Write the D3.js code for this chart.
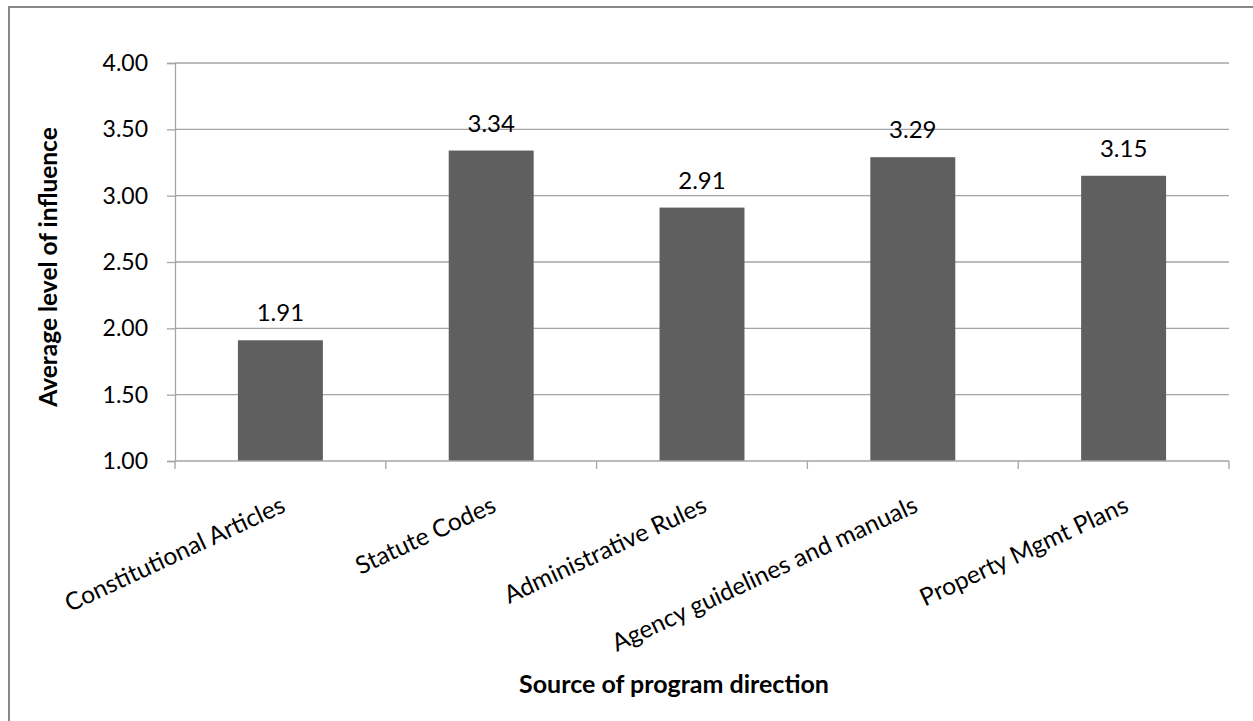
<!DOCTYPE html>
<html>
<head>
<meta charset="utf-8">
<script src="https://cdn.jsdelivr.net/npm/d3@7"></script>
<style>
  html, body { margin: 0; padding: 0; background: #fff; }
  svg { display: block; }
  text { font-family: Lato, "Open Sans", sans-serif; fill: #000; }
</style>
</head>
<body>
<svg id="chart" width="1253" height="721"></svg>
<script>
// Average influence by source of program direction
const categories = [
  "Constitutional Articles",
  "Statute Codes",
  "Administrative Rules",
  "Agency guidelines and manuals",
  "Property Mgmt Plans"
];
const values = [1.91, 3.34, 2.91, 3.29, 3.15];
const yTicks = [1.00, 1.50, 2.00, 2.50, 3.00, 3.50, 4.00];
const yTitle = "Average level of influence";
const xTitle = "Source of program direction";

const svg = d3.select("#chart");

// chart area frame (continues past the right and bottom edges)
svg.append("rect")
  .attr("x", 9).attr("y", 7)
  .attr("width", 1400).attr("height", 900)
  .attr("fill", "#fff")
  .attr("stroke", "#878787")
  .attr("stroke-width", 2);

const plot = { left: 175, right: 1229, top: 63, bottom: 461 };

const x = d3.scaleBand()
  .domain(categories)
  .range([plot.left, plot.right])
  .paddingInner(0.597)
  .paddingOuter(0.2985);

const y = d3.scaleLinear()
  .domain([1, 4])
  .range([plot.bottom, plot.top]);

const gridColor = "#a5a5a5";
const textColor = "#111";

// y axis with outside ticks
const yAxis = d3.axisLeft(y)
  .tickValues(yTicks)
  .tickSize(8)
  .tickPadding(19)
  .tickFormat(d3.format(".2f"));

const gy = svg.append("g")
  .attr("transform", `translate(${plot.left},0)`)
  .call(yAxis);
gy.select(".domain").attr("stroke", gridColor).attr("stroke-width", 1.3);
gy.selectAll(".tick line").attr("stroke", gridColor).attr("stroke-width", 1.3);
gy.selectAll(".tick text")
  .attr("font-size", 23)
  .attr("fill", textColor)
  .style("font-family", "Lato, sans-serif");

// horizontal gridlines
svg.append("g")
  .selectAll("line")
  .data(yTicks.filter(t => t > 1))
  .join("line")
  .attr("x1", plot.left).attr("x2", plot.right)
  .attr("y1", d => y(d)).attr("y2", d => y(d))
  .attr("stroke", gridColor)
  .attr("stroke-width", 1.3);

// bars
svg.append("g")
  .selectAll("rect")
  .data(values)
  .join("rect")
  .attr("x", (d, i) => x(categories[i]))
  .attr("y", d => y(d))
  .attr("width", x.bandwidth())
  .attr("height", d => y(1) - y(d))
  .attr("fill", "#5f5f5f");

// x axis line and category boundary ticks
const gx = svg.append("g");
gx.append("line")
  .attr("x1", plot.left).attr("x2", plot.right)
  .attr("y1", plot.bottom).attr("y2", plot.bottom)
  .attr("stroke", gridColor).attr("stroke-width", 1.3);
gx.selectAll("line.tk")
  .data(d3.range(categories.length + 1))
  .join("line")
  .attr("class", "tk")
  .attr("x1", i => plot.left + i * x.step())
  .attr("x2", i => plot.left + i * x.step())
  .attr("y1", plot.bottom).attr("y2", plot.bottom + 8)
  .attr("stroke", gridColor).attr("stroke-width", 1.3);

// rotated category labels
svg.append("g")
  .selectAll("text")
  .data(categories)
  .join("text")
  .attr("transform", d => `translate(${x(d) + x.bandwidth() / 2 - 1},${plot.bottom + 34}) rotate(-25)`)
  .attr("text-anchor", "end")
  .attr("dy", "0.72em")
  .attr("font-size", 24.5)
  .attr("fill", textColor)
  .text(d => d);

// value labels above bars
svg.append("g")
  .selectAll("text")
  .data(values)
  .join("text")
  .attr("x", (d, i) => x(categories[i]) + x.bandwidth() / 2)
  .attr("y", d => y(d) - 19)
  .attr("text-anchor", "middle")
  .attr("font-size", 24)
  .attr("fill", textColor)
  .text(d => d3.format(".2f")(d));

// axis titles
svg.append("text")
  .attr("transform", `translate(57,${(plot.top + plot.bottom) / 2 + 5}) rotate(-90)`)
  .attr("text-anchor", "middle")
  .attr("font-size", 24.5)
  .attr("font-weight", "bold")
  .text(yTitle);

svg.append("text")
  .attr("x", 674)
  .attr("y", 693)
  .attr("text-anchor", "middle")
  .attr("font-size", 25)
  .attr("font-weight", "bold")
  .text(xTitle);
</script>
</body>
</html>
